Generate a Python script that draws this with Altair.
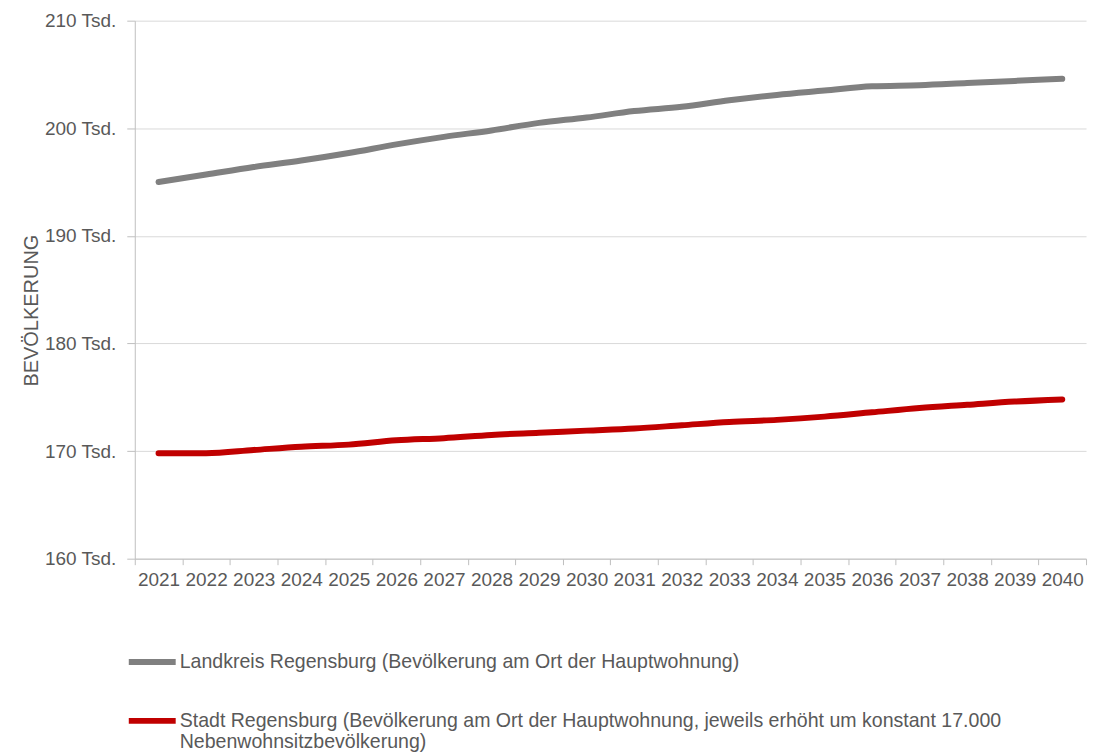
import altair as alt
import pandas as pd

jahre = ["2021", "2022", "2023", "2024", "2025", "2026", "2027", "2028", "2029", "2030",
         "2031", "2032", "2033", "2034", "2035", "2036", "2037", "2038", "2039", "2040"]

landkreis_name = "Landkreis Regensburg (Bevölkerung am Ort der Hauptwohnung)"
stadt_name = ("Stadt Regensburg (Bevölkerung am Ort der Hauptwohnung, jeweils erhöht um konstant 17.000 "
              "Nebenwohnsitzbevölkerung)")

# values in thousands
landkreis = [195.0, 195.7, 196.4, 197.0, 197.7, 198.5, 199.2, 199.8, 200.5, 201.0,
             201.6, 202.0, 202.6, 203.1, 203.5, 203.9, 204.0, 204.2, 204.4, 204.6]
stadt = [169.8, 169.8, 170.1, 170.4, 170.6, 171.0, 171.2, 171.5, 171.7, 171.9,
         172.1, 172.4, 172.7, 172.9, 173.2, 173.6, 174.0, 174.3, 174.6, 174.8]

rows = []
for j, v in zip(jahre, landkreis):
    rows.append({"Jahr": j, "Wert": v, "Serie": landkreis_name})
for j, v in zip(jahre, stadt):
    rows.append({"Jahr": j, "Wert": v, "Serie": stadt_name})
df = pd.DataFrame(rows)

FONT = "Liberation Sans"
TXT = "#595959"

label_expr = (
    "datum.label == '" + stadt_name + "' ? "
    "['Stadt Regensburg (Bevölkerung am Ort der Hauptwohnung, jeweils erhöht um konstant 17.000', "
    "'Nebenwohnsitzbevölkerung)'] : datum.label"
)

chart = alt.Chart(df).mark_line(strokeWidth=6, strokeCap="round", interpolate="monotone").encode(
    x=alt.X("Jahr:N", sort=jahre,
            scale=alt.Scale(paddingInner=0, paddingOuter=0),
            axis=alt.Axis(title=None, labelAngle=0, tickBand="extent", labelFontSize=19,
                          labelColor=TXT, labelFont=FONT, tickColor="#bfbfbf", domainColor="#bfbfbf",
                          tickSize=6, labelPadding=6, grid=False)),
    y=alt.Y("Wert:Q",
            scale=alt.Scale(domain=[160, 210], nice=False, zero=False),
            axis=alt.Axis(title="BEVÖLKERUNG", values=[160, 170, 180, 190, 200, 210],
                          labelExpr="datum.value + ' Tsd.'", labelFontSize=19, labelColor=TXT,
                          labelFont=FONT, tickColor="#bfbfbf", domainColor="#bfbfbf", tickSize=8,
                          labelPadding=11, gridColor="#d9d9d9", titleFont=FONT, titleFontSize=20,
                          titleFontWeight="normal", titleColor=TXT, titleX=-103, titleY=290,
                          titleBaseline="middle")),
    color=alt.Color("Serie:N",
                    scale=alt.Scale(domain=[landkreis_name, stadt_name], range=["#808080", "#c00000"]),
                    legend=alt.Legend(title=None, orient="none", legendX=-9, legendY=616,
                                      direction="vertical", symbolType="stroke", symbolSize=2209,
                                      symbolStrokeWidth=6, labelFontSize=19.6, labelFont=FONT,
                                      labelColor=TXT, labelLimit=1200, labelOffset=1, padding=0,
                                      rowPadding=20, labelExpr=label_expr)),
).properties(
    width=953, height=539,
    autosize=alt.AutoSizeParams(type="none"),
    padding={"left": 127, "top": 12, "right": 10, "bottom": 196},
).configure_view(stroke=None).configure_axis(gridWidth=1)

chart.save("out.html", embed_options={"renderer": "svg", "actions": False})
